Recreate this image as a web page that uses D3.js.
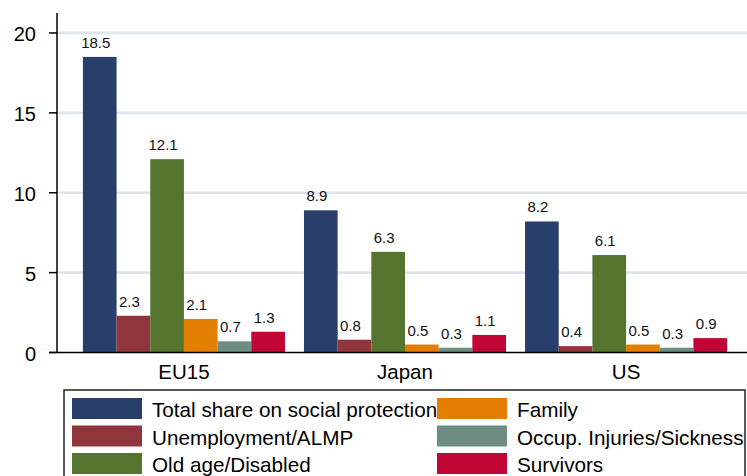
<!DOCTYPE html>
<html>
<head>
<meta charset="utf-8">
<script src="https://cdn.jsdelivr.net/npm/d3@7"></script>
<style>
  body { margin: 0; background: #fff; }
  svg { display: block; font-family: "Liberation Sans", Arial, sans-serif; }
</style>
</head>
<body>
<div id="chart"></div>
<script>
const regions = ["EU15", "Japan", "US"];
const seriesNames = [
  "Total share on social protection",
  "Unemployment/ALMP",
  "Old age/Disabled",
  "Family",
  "Occup. Injuries/Sickness",
  "Survivors"
];
const totalShare = [18.5, 8.9, 8.2];
const unemployment = [2.3, 0.8, 0.4];
const oldAge = [12.1, 6.3, 6.1];
const family = [2.1, 0.5, 0.5];
const occupInjuries = [0.7, 0.3, 0.3];
const survivors = [1.3, 1.1, 0.9];
const yTicks = [0, 5, 10, 15, 20];
const colours = ["#283f6b", "#90353b", "#55752f", "#e37e00", "#6e8e84", "#c10534"];

const w = 747;
const h = 476;

const seriesValues = [totalShare, unemployment, oldAge, family, occupInjuries, survivors];

const svg = d3.select("#chart").append("svg").attr("width", w).attr("height", h);

const yScale = d3.scaleLinear().domain([0, 21.25]).range([352.5, 13]);

const xScale = d3
  .scaleBand()
  .domain(regions)
  .range([63, 747])
  .paddingInner(0.086)
  .paddingOuter(0.09);

const xInner = d3
  .scaleBand()
  .domain(seriesNames)
  .range([0, xScale.bandwidth()]);

// gridlines
svg
  .selectAll("line.grid")
  .data(yTicks.filter((t) => t > 0))
  .enter()
  .append("line")
  .attr("class", "grid")
  .attr("x1", 57)
  .attr("x2", w)
  .attr("y1", (d) => yScale(d))
  .attr("y2", (d) => yScale(d))
  .style("stroke", "#dfe5ef")
  .style("stroke-width", 2.7);

// bars
const rows = [];
regions.forEach((r, i) => {
  seriesNames.forEach((s, j) => {
    rows.push({ region: r, series: s, value: seriesValues[j][i], colour: colours[j] });
  });
});

svg
  .selectAll("rect.bar")
  .data(rows)
  .enter()
  .append("rect")
  .attr("class", "bar")
  .attr("x", (d) => xScale(d.region) + xInner(d.series))
  .attr("y", (d) => yScale(d.value))
  .attr("width", xInner.bandwidth())
  .attr("height", (d) => yScale(0) - yScale(d.value))
  .style("fill", (d) => d.colour);

svg
  .selectAll("text.val")
  .data(rows)
  .enter()
  .append("text")
  .attr("class", "val")
  .text((d) => d.value.toFixed(1))
  .attr("x", (d) => xScale(d.region) + xInner(d.series) + xInner.bandwidth() / 2 - 4)
  .attr("y", (d) => yScale(d.value) - 9)
  .attr("text-anchor", "middle")
  .style("font-size", "15px")
  .style("fill", "#111");

// y axis
svg
  .append("line")
  .attr("x1", 57)
  .attr("x2", 57)
  .attr("y1", yScale.range()[1])
  .attr("y2", yScale(0))
  .style("stroke", "#000")
  .style("stroke-width", 1.5);

svg
  .selectAll("line.tick")
  .data(yTicks)
  .enter()
  .append("line")
  .attr("class", "tick")
  .attr("x1", 49)
  .attr("x2", 57)
  .attr("y1", (d) => yScale(d))
  .attr("y2", (d) => yScale(d))
  .style("stroke", "#000")
  .style("stroke-width", 1.5);

svg
  .selectAll("text.ytick")
  .data(yTicks)
  .enter()
  .append("text")
  .attr("class", "ytick")
  .text((d) => d)
  .attr("x", 36)
  .attr("y", (d) => yScale(d) + 8)
  .attr("text-anchor", "end")
  .style("font-size", "20px")
  .style("fill", "#000");

// baseline
svg
  .append("line")
  .attr("x1", 49)
  .attr("x2", w)
  .attr("y1", yScale(0))
  .attr("y2", yScale(0))
  .style("stroke", "#000")
  .style("stroke-width", 1.5);

svg
  .selectAll("text.cat")
  .data(regions)
  .enter()
  .append("text")
  .attr("class", "cat")
  .text((d) => d)
  .attr("x", (d) => xScale(d) + xScale.bandwidth() / 2)
  .attr("y", 379)
  .attr("text-anchor", "middle")
  .style("font-size", "20.5px")
  .style("fill", "#000");

// legend
const legend = svg.append("g");
legend
  .append("rect")
  .attr("x", 64)
  .attr("y", 390)
  .attr("width", 681)
  .attr("height", 110)
  .style("fill", "#fff")
  .style("stroke", "#222")
  .style("stroke-width", 1.5);

const legendItems = legend
  .selectAll("g.item")
  .data(seriesNames)
  .enter()
  .append("g")
  .attr("class", "item")
  .attr("transform", (d, i) => {
    const col = Math.floor(i / 3);
    const row = i % 3;
    return `translate(${col === 0 ? 72 : 437},${398 + row * 27.5})`;
  });

legendItems
  .append("rect")
  .attr("width", 70)
  .attr("height", 21)
  .style("fill", (d, i) => colours[i]);

legendItems
  .append("text")
  .text((d) => d)
  .attr("x", 80)
  .attr("y", 19)
  .style("font-size", "20.7px")
  .style("fill", "#000");
</script>
</body>
</html>
